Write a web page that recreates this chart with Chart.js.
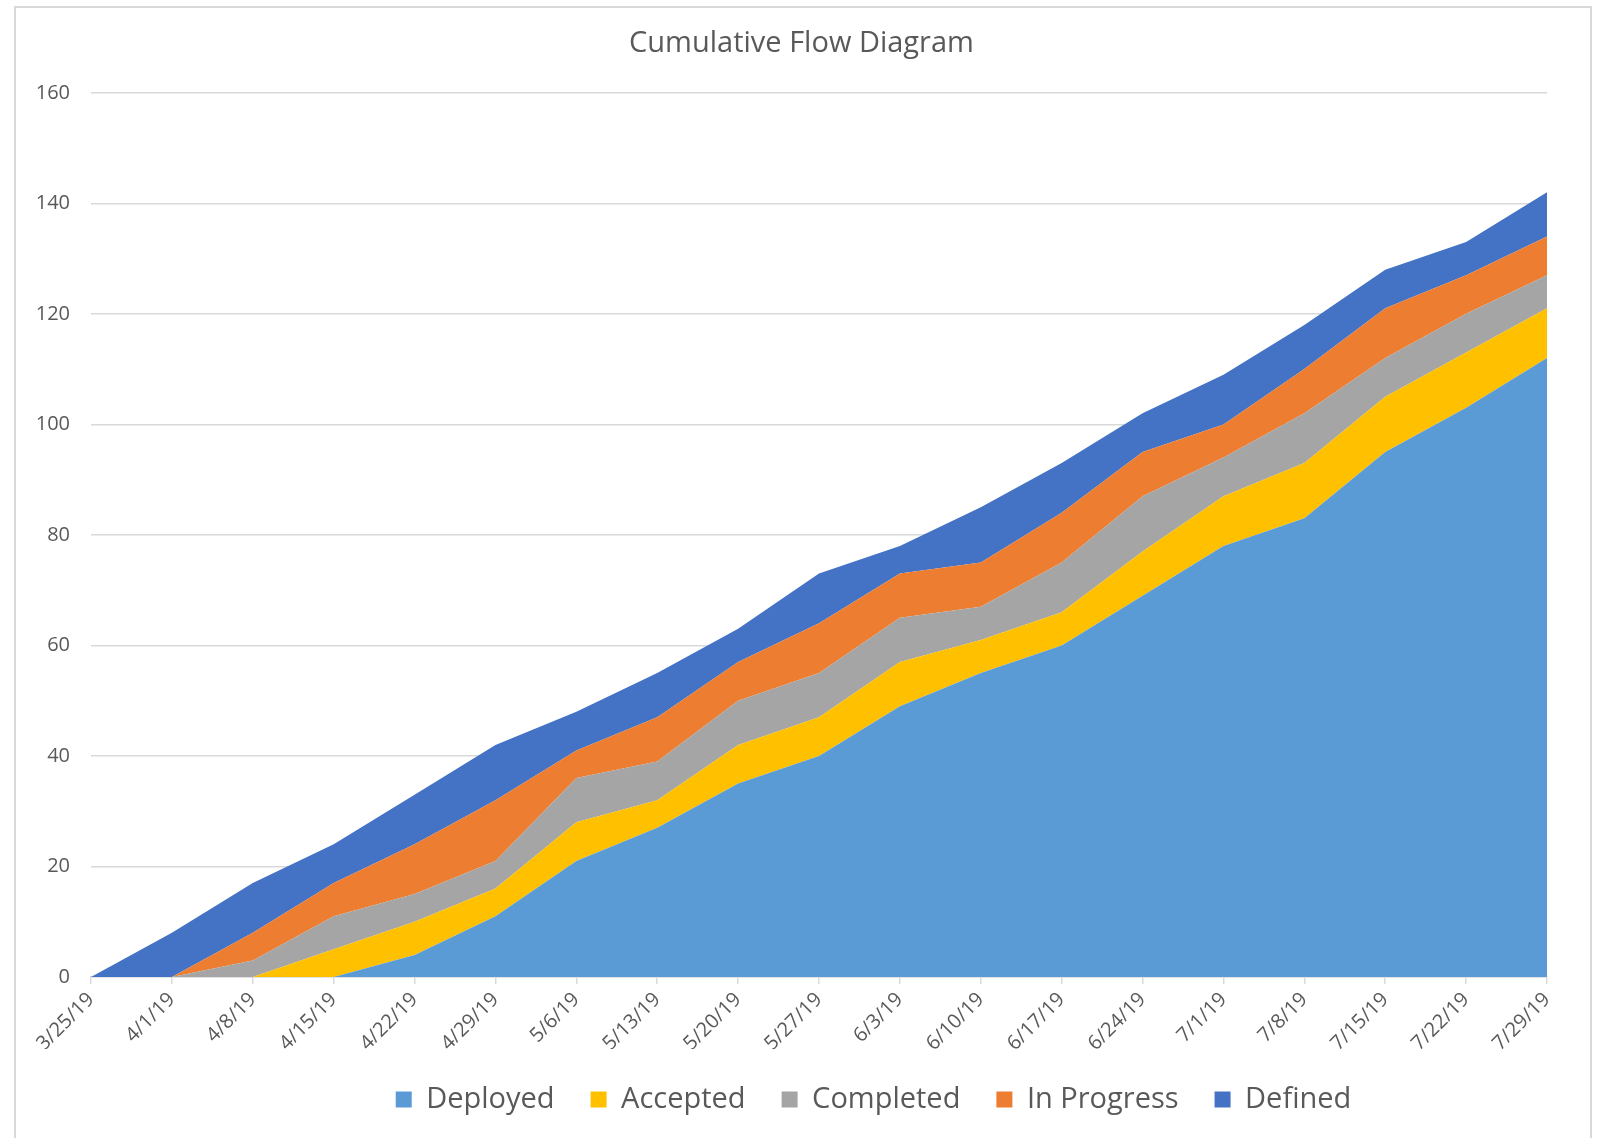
<!DOCTYPE html>
<html>
<head>
<meta charset="utf-8">
<script src="https://cdn.jsdelivr.net/npm/chart.js@4"></script>
<style>
  html, body { margin: 0; padding: 0; background: #fff; overflow: hidden; }
  #wrap { position: absolute; left: 0; top: 0; width: 1599px; height: 1138px; }
  #frame { position: absolute; left: 14px; top: 6px; width: 1578px; height: 1200px; border: 2px solid #d9d9d9; box-sizing: border-box; }
</style>
</head>
<body>
<div id="frame"></div>
<div id="wrap"><canvas id="cfd" width="1599" height="1138"></canvas></div>
<script>
var weeks = ['3/25/19','4/1/19','4/8/19','4/15/19','4/22/19','4/29/19','5/6/19','5/13/19','5/20/19','5/27/19',
  '6/3/19','6/10/19','6/17/19','6/24/19','7/1/19','7/8/19','7/15/19','7/22/19','7/29/19'];

// item counts per state, stacked bottom to top
var deployed   = [0,0,0,0,4,11,21,27,35,40,49,55,60,69,78,83,95,103,112];
var accepted   = [0,0,0,5,6,5,7,5,7,7,8,6,6,8,9,10,10,10,9];
var completed  = [0,0,3,6,5,5,8,7,8,8,8,6,9,10,7,9,7,7,6];
var inProgress = [0,0,5,6,9,11,5,8,7,9,8,8,9,8,6,8,9,7,7];
var defined    = [0,8,9,7,9,10,7,8,6,9,5,10,9,7,9,8,7,6,8];

var yTicks = [0,20,40,60,80,100,120,140,160];

var font = '"Open Sans", sans-serif';
var grey = '#595959';

function area(label, data, color, fill) {
  return {
    label: label,
    data: data,
    backgroundColor: color,
    borderColor: color,
    borderWidth: 0,
    pointRadius: 0,
    tension: 0,
    fill: fill
  };
}

// title and legend are centred on the whole box in the original, not on the plot
var nudge = {
  id: 'nudge',
  afterLayout: function(chart) {
    chart.titleBlock.left += 28; chart.titleBlock.right += 28;
    chart.legend.left += 100; chart.legend.right += 100;
  }
};

new Chart(document.getElementById('cfd'), {
  type: 'line',
  data: {
    labels: weeks,
    datasets: [
      area('Deployed', deployed, '#5B9BD5', 'origin'),
      area('Accepted', accepted, '#FFC000', '-1'),
      area('Completed', completed, '#A5A5A5', '-1'),
      area('In Progress', inProgress, '#ED7D31', '-1'),
      area('Defined', defined, '#4472C4', '-1')
    ]
  },
  plugins: [nudge],
  options: {
    responsive: false,
    animation: false,
    layout: { padding: { top: 26, right: 52, bottom: 14, left: 0 } },
    plugins: {
      tooltip: { enabled: false },
      title: {
        display: true,
        text: 'Cumulative Flow Diagram',
        color: grey,
        font: { family: font, size: 29, weight: 'normal' },
        padding: { top: 0, bottom: 32 }
      },
      legend: {
        position: 'bottom',
        labels: {
          color: grey,
          font: { family: font, size: 29 },
          boxWidth: 16,
          boxHeight: 16,
          padding: 36
        }
      }
    },
    scales: {
      x: {
        offset: false,
        grid: { drawOnChartArea: false, drawTicks: true, tickLength: 7, color: '#d9d9d9', lineWidth: 1.5 },
        border: { display: true, color: '#d9d9d9', width: 1.5 },
        ticks: {
          color: grey, font: { family: font, size: 20 },
          minRotation: 45, maxRotation: 45, autoSkip: false, padding: 4
        },
        afterFit: function(s) { s.height = 72; }
      },
      y: {
        stacked: true,
        min: 0,
        max: 160,
        afterBuildTicks: function(s) { s.ticks = yTicks.map(function(v) { return { value: v }; }); },
        grid: { drawTicks: false, color: '#d9d9d9', lineWidth: 1.5 },
        border: { display: false },
        ticks: { color: grey, font: { family: font, size: 20 }, padding: 21 },
        afterFit: function(s) { s.width = 91; }
      }
    }
  }
});
</script>
</body>
</html>
